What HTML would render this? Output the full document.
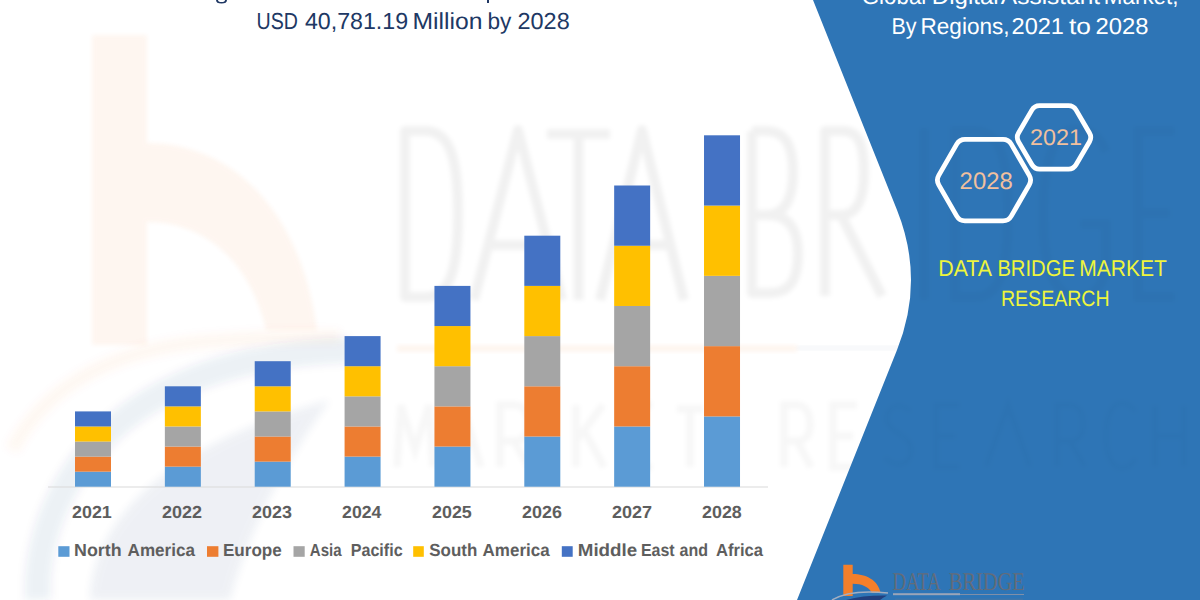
<!DOCTYPE html>
<html>
<head>
<meta charset="utf-8">
<style>
html,body{margin:0;padding:0;width:1200px;height:600px;overflow:hidden;background:#fff;}
svg{position:absolute;left:0;top:0;display:block;text-rendering:geometricPrecision;}
</style>
</head>
<body>
<svg width="1200" height="600" viewBox="0 0 1200 600">
  <defs>
    <filter id="bl" x="-20%" y="-20%" width="140%" height="140%"><feGaussianBlur stdDeviation="2"/></filter>
    <filter id="bl3" x="-30%" y="-30%" width="160%" height="160%"><feGaussianBlur stdDeviation="4"/></filter>
  </defs>
  <!-- watermark -->
  <g id="wm">
    <path filter="url(#bl)" fill="#F47F2A" opacity="0.065" d="M92,35 L147,35 L147,143 C228,143 300,205 317,330 L266,330 C252,268 210,222 147,222 L147,345 L92,345 Z"/>
    <g filter="url(#bl)" fill="none" stroke="#000" stroke-opacity="0.055" stroke-width="10" stroke-linejoin="round">
      <path d="M405,131 L405,297 L425,297 C450,297 458,270 458,214 C458,158 450,131 425,131 Z"/>
      <path d="M474,300 L518,130 L562,300 M488,245 L548,245"/>
      <path d="M547,134 L610,134 M578.5,134 L578.5,300"/>
      <path d="M600,300 L642,130 L684,300 M613,245 L671,245"/>
      <path d="M752,131 L752,293 L770,293 C792,293 798,276 798,254 C798,228 788,215 768,215 L752,215 M752,131 L766,131 C785,131 793,145 793,172 C793,200 784,215 766,215"/>
      <path d="M825,296 L825,131 L843,131 C860,131 864,147 864,173 C864,200 856,215 841,215 L825,215 M841,215 L882,296"/>
      <path d="M924,128 L924,300"/>
      <path d="M955,131 L955,297 L975,297 C1000,297 1008,270 1008,214 C1008,158 1000,131 975,131 Z"/>
      <path d="M1106,152 C1100,136 1090,129 1075,129 C1055,129 1043,162 1043,214 C1043,267 1055,297 1077,297 C1095,297 1106,284 1106,260 L1106,224 L1080,224"/>
      <path d="M1175,131 L1138,131 L1138,297 L1175,297 M1138,213 L1170,213"/>
    </g>
    <rect filter="url(#bl)" x="397" y="345" width="400" height="7" fill="#F47F2A" opacity="0.07"/>
    <rect filter="url(#bl)" x="797" y="346" width="385" height="4" fill="#1F3D7A" opacity="0.05"/>
    <g filter="url(#bl)" fill="none" stroke="#000" stroke-opacity="0.032" stroke-width="7.5">
      <path d="M397,467 L401,405 L415,450 L429,405 L433,467"/>
      <path d="M443,467 L462,405 L481,467 M450,445 L474,445"/>
      <path d="M500,467 L500,405 L514,405 C525,405 528,415 528,425 C528,436 523,441 514,441 L500,441 M514,441 L529,467"/>
      <path d="M576,405 L576,467 M603,405 L576,441 M585,432 L604,467"/>
      <path d="M652,405 L627,405 L627,467 L652,467 M627,436 L648,436"/>
      <path d="M677,409 L703,409 M690,409 L690,467"/>
      <path d="M784,467 L784,405 L797,405 C807,405 810,415 810,425 C810,436 805,441 797,441 L784,441 M797,441 L811,467"/>
      <path d="M857,405 L833,405 L833,467 L857,467 M833,436 L853,436"/>
    </g>
    <path filter="url(#bl3)" d="M12,450 C40,395 100,352 200,342 C260,337 300,336 340,337" fill="none" stroke="#F47F2A" stroke-opacity="0.05" stroke-width="14"/>
    <path filter="url(#bl3)" d="M38,600 C34,520 80,430 180,385 C230,362 290,352 350,350" fill="none" stroke="#1F3D7A" stroke-opacity="0.075" stroke-width="26"/>
    <path filter="url(#bl3)" d="M90,600 C92,530 150,450 330,400 C300,440 250,520 230,600 Z" fill="#1F3D7A" opacity="0.07"/>
  </g>

  <!-- blue panel -->
  <path d="M813,0 L897,210 Q925,280 897,350 L797,600 L1200,600 L1200,0 Z" fill="#2E75B6"/>

  <!-- faint watermark on panel -->
  <g filter="url(#bl)" fill="none" stroke="#000" stroke-opacity="0.015" stroke-width="7">
    <path d="M910,412 C905,404 889,402 887,417 C885,433 911,433 911,450 C911,468 891,467 885,457"/>
    <path d="M960,405 L936,405 L936,467 L960,467 M936,436 L956,436"/>
    <path d="M986,467 L1008,405 L1030,467"/>
    <path d="M1057,467 L1057,405 L1070,405 C1080,405 1083,415 1083,425 C1083,436 1078,441 1070,441 L1057,441 M1070,441 L1085,467"/>
    <path d="M1136,412 C1132,406 1126,403 1122,403 C1112,403 1106,416 1106,436 C1106,456 1112,468 1122,468 C1127,468 1132,465 1136,458"/>
    <path d="M1155,405 L1155,467 M1184,405 L1184,467 M1155,436 L1184,436"/>
  </g>
  <g filter="url(#bl)" fill="none" stroke="#000" stroke-opacity="0.025" stroke-width="10">
    <path d="M924,128 L924,300"/>
    <path d="M955,131 L955,297 L975,297 C1000,297 1008,270 1008,214 C1008,158 1000,131 975,131 Z"/>
    <path d="M1106,152 C1100,136 1090,129 1075,129 C1055,129 1043,162 1043,214 C1043,267 1055,297 1077,297 C1095,297 1106,284 1106,260 L1106,224 L1080,224"/>
    <path d="M1175,131 L1138,131 L1138,297 L1175,297 M1138,213 L1170,213"/>
  </g>

  <!-- title left -->
  <g fill="#203864">
    <path d="M216,0 Q216,3.5 221.5,3.5 Q227,3.5 227,0 L225,0 Q225,2 221.5,2 Q218,2 218,0 Z"/>
    <rect x="487" y="0" width="2" height="3"/>
    <text x="256.53" y="28.75" style="font-family:'Liberation Sans'" font-size="23.26" textLength="41.38" lengthAdjust="spacingAndGlyphs">USD</text>
    <text x="304.92" y="28.75" style="font-family:'Liberation Sans'" font-size="23.26" textLength="103.21" lengthAdjust="spacingAndGlyphs">40,781.19</text>
    <text x="412.52" y="28.75" style="font-family:'Liberation Sans'" font-size="23.26" textLength="70.06" lengthAdjust="spacingAndGlyphs">Million</text>
    <text x="487.53" y="28.75" style="font-family:'Liberation Sans'" font-size="23.26" textLength="23.91" lengthAdjust="spacingAndGlyphs">by</text>
    <text x="517.53" y="28.75" style="font-family:'Liberation Sans'" font-size="23.26" textLength="52.22" lengthAdjust="spacingAndGlyphs">2028</text>
  </g>

  <!-- title right -->
  <g fill="#FFFFFF">
    <text x="861.78" y="3.6" style="font-family:'Liberation Sans'" font-size="22.97" textLength="64.48" lengthAdjust="spacingAndGlyphs">Global</text>
    <text x="931.88" y="3.6" style="font-family:'Liberation Sans'" font-size="22.97" textLength="66.78" lengthAdjust="spacingAndGlyphs">Digital</text>
    <text x="1000.88" y="3.6" style="font-family:'Liberation Sans'" font-size="22.97" textLength="99.3" lengthAdjust="spacingAndGlyphs">Assistant</text>
    <text x="1103.81" y="3.6" style="font-family:'Liberation Sans'" font-size="22.97" textLength="74.69" lengthAdjust="spacingAndGlyphs">Market,</text>
    <text x="891.48" y="33.6" style="font-family:'Liberation Sans'" font-size="22.97" textLength="25.06" lengthAdjust="spacingAndGlyphs">By</text>
    <text x="920.49" y="33.6" style="font-family:'Liberation Sans'" font-size="22.97" textLength="89.08" lengthAdjust="spacingAndGlyphs">Regions,</text>
    <text x="1011.62" y="33.6" style="font-family:'Liberation Sans'" font-size="22.97" textLength="52.34" lengthAdjust="spacingAndGlyphs">2021</text>
    <text x="1068.91" y="33.6" style="font-family:'Liberation Sans'" font-size="22.97" textLength="21.95" lengthAdjust="spacingAndGlyphs">to</text>
    <text x="1095.51" y="33.6" style="font-family:'Liberation Sans'" font-size="22.97" textLength="52.95" lengthAdjust="spacingAndGlyphs">2028</text>
  </g>

  <!-- hexagons -->
  <g fill="none" stroke="#FFFFFF" stroke-width="4.8">
    <path d="M1029.25,175.34 Q1032.00,180.10 1029.25,184.86 L1011.25,216.09 Q1008.50,220.85 1003.00,220.85 L965.00,220.85 Q959.50,220.85 956.75,216.09 L938.75,184.86 Q936.00,180.10 938.75,175.34 L956.75,144.11 Q959.50,139.35 965.00,139.35 L1003.00,139.35 Q1008.50,139.35 1011.25,144.11 Z"/>
    <path d="M1089.49,133.03 Q1092.00,137.35 1089.49,141.67 L1076.01,164.83 Q1073.50,169.15 1068.50,169.15 L1039.50,169.15 Q1034.50,169.15 1031.99,164.83 L1018.51,141.67 Q1016.00,137.35 1018.51,133.03 L1031.99,109.87 Q1034.50,105.55 1039.50,105.55 L1068.50,105.55 Q1073.50,105.55 1076.01,109.87 Z"/>
  </g>
  <g fill="#F1C09E">
    <text x="959.61" y="188.7" style="font-family:'Liberation Sans'" font-size="23.84" textLength="53.16" lengthAdjust="spacingAndGlyphs">2028</text>
    <text x="1030.03" y="145.3" style="font-family:'Liberation Sans'" font-size="22.67" textLength="51.92" lengthAdjust="spacingAndGlyphs">2021</text>
  </g>

  <!-- yellow text -->
  <g fill="#EEF53C">
    <text x="938.29" y="275.5" style="font-family:'Liberation Sans'" font-size="22.82" textLength="53.79" lengthAdjust="spacingAndGlyphs">DATA</text>
    <text x="997.38" y="275.5" style="font-family:'Liberation Sans'" font-size="22.82" textLength="77.51" lengthAdjust="spacingAndGlyphs">BRIDGE</text>
    <text x="1079.32" y="275.5" style="font-family:'Liberation Sans'" font-size="22.82" textLength="87.65" lengthAdjust="spacingAndGlyphs">MARKET</text>
    <text x="1000.94" y="305.8" style="font-family:'Liberation Sans'" font-size="22.09" textLength="108.66" lengthAdjust="spacingAndGlyphs">RESEARCH</text>
  </g>

  <!-- chart axis -->
  <rect x="48" y="486.5" width="720" height="1" fill="#D9D9D9"/>

  <!-- bars -->
  <g>
        <rect x="75.00" y="471.64" width="36" height="15.06" fill="#5B9BD5"/>
    <rect x="75.00" y="456.58" width="36" height="15.06" fill="#ED7D31"/>
    <rect x="75.00" y="441.52" width="36" height="15.06" fill="#A5A5A5"/>
    <rect x="75.00" y="426.46" width="36" height="15.06" fill="#FFC000"/>
    <rect x="75.00" y="411.40" width="36" height="15.06" fill="#4472C4"/>
    <rect x="164.86" y="466.62" width="36" height="20.08" fill="#5B9BD5"/>
    <rect x="164.86" y="446.54" width="36" height="20.08" fill="#ED7D31"/>
    <rect x="164.86" y="426.46" width="36" height="20.08" fill="#A5A5A5"/>
    <rect x="164.86" y="406.38" width="36" height="20.08" fill="#FFC000"/>
    <rect x="164.86" y="386.30" width="36" height="20.08" fill="#4472C4"/>
    <rect x="254.72" y="461.60" width="36" height="25.10" fill="#5B9BD5"/>
    <rect x="254.72" y="436.50" width="36" height="25.10" fill="#ED7D31"/>
    <rect x="254.72" y="411.40" width="36" height="25.10" fill="#A5A5A5"/>
    <rect x="254.72" y="386.30" width="36" height="25.10" fill="#FFC000"/>
    <rect x="254.72" y="361.20" width="36" height="25.10" fill="#4472C4"/>
    <rect x="344.58" y="456.58" width="36" height="30.12" fill="#5B9BD5"/>
    <rect x="344.58" y="426.46" width="36" height="30.12" fill="#ED7D31"/>
    <rect x="344.58" y="396.34" width="36" height="30.12" fill="#A5A5A5"/>
    <rect x="344.58" y="366.22" width="36" height="30.12" fill="#FFC000"/>
    <rect x="344.58" y="336.10" width="36" height="30.12" fill="#4472C4"/>
    <rect x="434.44" y="446.54" width="36" height="40.16" fill="#5B9BD5"/>
    <rect x="434.44" y="406.38" width="36" height="40.16" fill="#ED7D31"/>
    <rect x="434.44" y="366.22" width="36" height="40.16" fill="#A5A5A5"/>
    <rect x="434.44" y="326.06" width="36" height="40.16" fill="#FFC000"/>
    <rect x="434.44" y="285.90" width="36" height="40.16" fill="#4472C4"/>
    <rect x="524.30" y="436.50" width="36" height="50.20" fill="#5B9BD5"/>
    <rect x="524.30" y="386.30" width="36" height="50.20" fill="#ED7D31"/>
    <rect x="524.30" y="336.10" width="36" height="50.20" fill="#A5A5A5"/>
    <rect x="524.30" y="285.90" width="36" height="50.20" fill="#FFC000"/>
    <rect x="524.30" y="235.70" width="36" height="50.20" fill="#4472C4"/>
    <rect x="614.16" y="426.46" width="36" height="60.24" fill="#5B9BD5"/>
    <rect x="614.16" y="366.22" width="36" height="60.24" fill="#ED7D31"/>
    <rect x="614.16" y="305.98" width="36" height="60.24" fill="#A5A5A5"/>
    <rect x="614.16" y="245.74" width="36" height="60.24" fill="#FFC000"/>
    <rect x="614.16" y="185.50" width="36" height="60.24" fill="#4472C4"/>
    <rect x="704.02" y="416.42" width="36" height="70.28" fill="#5B9BD5"/>
    <rect x="704.02" y="346.14" width="36" height="70.28" fill="#ED7D31"/>
    <rect x="704.02" y="275.86" width="36" height="70.28" fill="#A5A5A5"/>
    <rect x="704.02" y="205.58" width="36" height="70.28" fill="#FFC000"/>
    <rect x="704.02" y="135.30" width="36" height="70.28" fill="#4472C4"/>
  </g>

  <!-- year labels -->
  <g fill="#5E5E5E">
    <text x="72.07" y="518.2" style="font-family:'Liberation Sans'" font-size="17.44" font-weight="bold" textLength="39.75" lengthAdjust="spacingAndGlyphs">2021</text>
    <text x="162.07" y="518.2" style="font-family:'Liberation Sans'" font-size="17.44" font-weight="bold" textLength="39.94" lengthAdjust="spacingAndGlyphs">2022</text>
    <text x="252.07" y="518.2" style="font-family:'Liberation Sans'" font-size="17.44" font-weight="bold" textLength="39.85" lengthAdjust="spacingAndGlyphs">2023</text>
    <text x="342.08" y="518.2" style="font-family:'Liberation Sans'" font-size="17.44" font-weight="bold" textLength="39.3" lengthAdjust="spacingAndGlyphs">2024</text>
    <text x="432.07" y="518.2" style="font-family:'Liberation Sans'" font-size="17.44" font-weight="bold" textLength="39.75" lengthAdjust="spacingAndGlyphs">2025</text>
    <text x="522.07" y="518.2" style="font-family:'Liberation Sans'" font-size="17.44" font-weight="bold" textLength="39.85" lengthAdjust="spacingAndGlyphs">2026</text>
    <text x="612.07" y="518.2" style="font-family:'Liberation Sans'" font-size="17.44" font-weight="bold" textLength="40.03" lengthAdjust="spacingAndGlyphs">2027</text>
    <text x="702.07" y="518.2" style="font-family:'Liberation Sans'" font-size="17.44" font-weight="bold" textLength="39.75" lengthAdjust="spacingAndGlyphs">2028</text>
  </g>

  <!-- legend -->
  <rect x="58.3" y="546.2" width="11.2" height="10.6" fill="#5B9BD5"/>
  <rect x="207" y="546.2" width="11.4" height="10.6" fill="#ED7D31"/>
  <rect x="293.5" y="546.2" width="11.2" height="10.6" fill="#A5A5A5"/>
  <rect x="413.2" y="546.2" width="10.6" height="10.6" fill="#FFC000"/>
  <rect x="561.8" y="546.2" width="10.9" height="10.6" fill="#4472C4"/>
  <g fill="#5E5E5E">
    <text x="74.04" y="556.3" style="font-family:'Liberation Sans'" font-size="17.44" font-weight="bold" textLength="47.55" lengthAdjust="spacingAndGlyphs">North</text>
    <text x="127.57" y="556.3" style="font-family:'Liberation Sans'" font-size="17.44" font-weight="bold" textLength="67.49" lengthAdjust="spacingAndGlyphs">America</text>
    <text x="222.89" y="556.3" style="font-family:'Liberation Sans'" font-size="17.44" font-weight="bold" textLength="58.91" lengthAdjust="spacingAndGlyphs">Europe</text>
    <text x="309.82" y="556.3" style="font-family:'Liberation Sans'" font-size="17.44" font-weight="bold" textLength="31.76" lengthAdjust="spacingAndGlyphs">Asia</text>
    <text x="350.7" y="556.3" style="font-family:'Liberation Sans'" font-size="17.44" font-weight="bold" textLength="51.97" lengthAdjust="spacingAndGlyphs">Pacific</text>
    <text x="429.24" y="556.3" style="font-family:'Liberation Sans'" font-size="17.44" font-weight="bold" textLength="48.07" lengthAdjust="spacingAndGlyphs">South</text>
    <text x="482.58" y="556.3" style="font-family:'Liberation Sans'" font-size="17.44" font-weight="bold" textLength="67.04" lengthAdjust="spacingAndGlyphs">America</text>
    <text x="577.78" y="556.3" style="font-family:'Liberation Sans'" font-size="17.44" font-weight="bold" textLength="59.41" lengthAdjust="spacingAndGlyphs">Middle</text>
    <text x="640.96" y="556.3" style="font-family:'Liberation Sans'" font-size="17.44" font-weight="bold" textLength="33.74" lengthAdjust="spacingAndGlyphs">East</text>
    <text x="679.52" y="556.3" style="font-family:'Liberation Sans'" font-size="17.44" font-weight="bold" textLength="28.47" lengthAdjust="spacingAndGlyphs">and</text>
    <text x="715.99" y="556.3" style="font-family:'Liberation Sans'" font-size="17.44" font-weight="bold" textLength="47.02" lengthAdjust="spacingAndGlyphs">Africa</text>
  </g>

  <!-- bottom logo -->
  <g>
    <path d="M843.3,564.7 L852.7,564.7 L852.7,574 C866,574 878,580 880.7,593 L872,593 C869,587 862,583.7 852.7,583.7 L852.7,596 L843.3,596 Z" fill="#F47F2A"/>
    <path d="M832,600 C845,592 865,590.5 888,593" fill="none" stroke="#A3AEC0" stroke-width="1.5"/>
    <path d="M846,600 C858,596.5 872,595.2 887,595.5 C884,597 882,598.5 880,600 Z" fill="#22407E"/>
    <g fill="#636C7A">
      <text x="892.54" y="590" style="font-family:'Liberation Serif'" font-size="25.53" textLength="48.18" lengthAdjust="spacingAndGlyphs">DATA</text>
    <text x="948.79" y="590" style="font-family:'Liberation Serif'" font-size="25.53" textLength="76.03" lengthAdjust="spacingAndGlyphs">BRIDGE</text>
    </g>
    <rect x="893" y="593.2" width="67" height="2" fill="#9AA5B8"/>
    <rect x="960" y="594" width="64" height="1" fill="#7F8FA8"/>
    <rect x="895" y="598.5" width="128" height="1.5" fill="#6E7A8A" opacity="0.25"/>
  </g>
</svg>
</body>
</html>
